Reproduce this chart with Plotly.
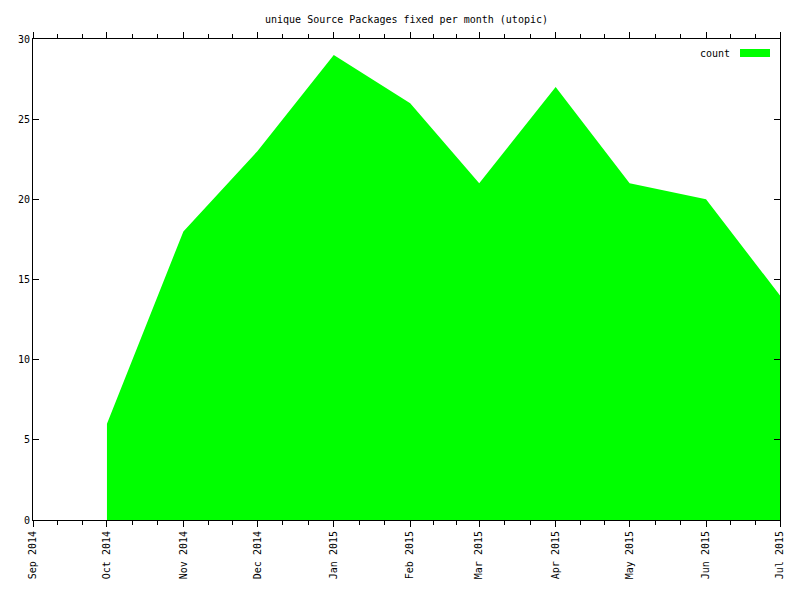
import plotly.graph_objects as go
import pandas as pd

months = ["2014-10-01", "2014-11-01", "2014-12-01", "2015-01-01", "2015-02-01",
          "2015-03-01", "2015-04-01", "2015-05-01", "2015-06-01", "2015-07-01"]
counts = [6, 18, 23, 29, 26, 21, 27, 21, 20, 14]
series_name = "count"
title_text = "unique Source Packages fixed per month (utopic)"

tick_dates = pd.date_range("2014-09-01", "2015-07-01", freq="MS")
tick_text = [d.strftime("%b %Y") for d in tick_dates]
minor_vals = []
for a, b in zip(tick_dates[:-1], tick_dates[1:]):
    for k in (1, 2):
        minor_vals.append(a + (b - a) * k / 3)

font = "DejaVu Sans Mono, Liberation Mono, monospace"
green = "#00ff00"

fig = go.Figure()
fig.add_trace(go.Scatter(
    x=pd.to_datetime(months), y=counts, name=series_name, mode="lines",
    fill="tozeroy", fillcolor=green, line=dict(color=green, width=0),
    showlegend=False, hoverinfo="skip"))

fig.update_layout(
    width=800, height=600,
    margin=dict(l=33, r=20, t=39, b=80),
    paper_bgcolor="white", plot_bgcolor="white",
    font=dict(family=font, size=10, color="black"),
    title=dict(text=title_text, x=(33 + 780) / 2 / 800, xanchor="center",
               y=1 - 19 / 600, yanchor="middle", font=dict(family=font, size=10)),
)
fig.update_xaxes(
    range=[tick_dates[0], tick_dates[-1]],
    tickmode="array", tickvals=list(tick_dates), ticktext=tick_text,
    tickangle=-90, ticks="outside", ticklen=6, tickwidth=1, tickcolor="black",
    showline=True, linecolor="black", linewidth=1, mirror="ticks",
    showgrid=False, zeroline=False,
    minor=dict(tickmode="array", tickvals=minor_vals, ticks="outside",
               ticklen=4, tickcolor="black", showgrid=False),
    tickfont=dict(family=font, size=10),
)
fig.update_yaxes(
    range=[0, 30], dtick=5, tick0=0,
    ticks="inside", ticklen=6, tickwidth=1, tickcolor="black",
    showline=True, linecolor="black", linewidth=1, mirror="ticks",
    showgrid=False, zeroline=False,
    tickfont=dict(family=font, size=10),
)

# legend key (gnuplot style, top-right)
fig.add_annotation(text=series_name, xref="paper", yref="paper",
                   x=(732 - 33) / 747, y=1 - (53 - 39) / 481,
                   xanchor="right", yanchor="middle", showarrow=False,
                   font=dict(family=font, size=10))
fig.add_shape(type="rect", xref="paper", yref="paper",
              x0=(740 - 33) / 747, x1=(770 - 33) / 747,
              y0=1 - (57 - 39) / 481, y1=1 - (49 - 39) / 481,
              fillcolor=green, line=dict(width=0))

fig.write_html("out.html", config={"displayModeBar": False},
               post_script="document.body.style.margin='0';")
